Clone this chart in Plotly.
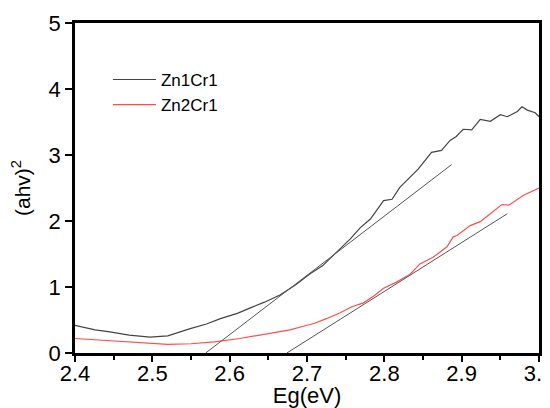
import plotly.graph_objects as go

# Zn1Cr1 (black) curve
zn1_x = [2.400, 2.426, 2.445, 2.470, 2.497, 2.520, 2.549, 2.570, 2.588, 2.610, 2.626, 2.645,
         2.665, 2.685, 2.704, 2.720, 2.734, 2.756, 2.769, 2.782, 2.799, 2.810, 2.820, 2.829,
         2.844, 2.861, 2.874, 2.885, 2.893, 2.902, 2.913, 2.924, 2.937, 2.950, 2.959, 2.972,
         2.978, 2.985, 2.995, 3.000]
zn1_y = [0.42, 0.35, 0.32, 0.27, 0.24, 0.26, 0.37, 0.44, 0.52, 0.60, 0.68, 0.77,
         0.88, 1.03, 1.20, 1.32, 1.48, 1.73, 1.90, 2.03, 2.31, 2.33, 2.51, 2.61,
         2.79, 3.04, 3.07, 3.22, 3.28, 3.39, 3.38, 3.54, 3.51, 3.61, 3.58, 3.66,
         3.73, 3.68, 3.64, 3.58]

# Zn2Cr1 (red) curve
zn2_x = [2.400, 2.450, 2.500, 2.520, 2.550, 2.580, 2.613, 2.650, 2.678, 2.700, 2.710, 2.725,
         2.743, 2.758, 2.773, 2.786, 2.799, 2.815, 2.833, 2.846, 2.863, 2.881, 2.889, 2.894,
         2.911, 2.924, 2.941, 2.952, 2.961, 2.980, 3.000]
zn2_y = [0.22, 0.18, 0.14, 0.13, 0.14, 0.17, 0.22, 0.29, 0.35, 0.42, 0.45, 0.52,
         0.61, 0.70, 0.76, 0.86, 0.98, 1.07, 1.19, 1.35, 1.45, 1.61, 1.76, 1.78,
         1.93, 1.99, 2.15, 2.25, 2.24, 2.39, 2.50]

# Tangent (extrapolation) lines
tan1_x = [2.569, 2.887]
tan1_y = [0.0, 2.855]
tan2_x = [2.674, 2.959]
tan2_y = [0.0, 2.11]

font_family = "Arial, Liberation Sans, sans-serif"

fig = go.Figure()
fig.add_trace(go.Scatter(x=zn1_x, y=zn1_y, mode="lines", name="Zn1Cr1",
                         line=dict(color="#444444", width=1.2)))
fig.add_trace(go.Scatter(x=zn2_x, y=zn2_y, mode="lines", name="Zn2Cr1",
                         line=dict(color="#ff4d4d", width=1.2)))
fig.add_trace(go.Scatter(x=tan1_x, y=tan1_y, mode="lines", showlegend=False,
                         line=dict(color="#555555", width=1)))
fig.add_trace(go.Scatter(x=tan2_x, y=tan2_y, mode="lines", showlegend=False,
                         line=dict(color="#555555", width=1)))

fig.update_layout(
    width=542, height=400,
    margin=dict(l=67, r=11, t=15, b=55),
    paper_bgcolor="white", plot_bgcolor="white",
    font=dict(family=font_family, color="black", size=22),
    legend=dict(x=0.071, y=0.882, xanchor="left", yanchor="top", itemwidth=43,
                bgcolor="rgba(0,0,0,0)", font=dict(size=17), tracegroupgap=0),
    xaxis=dict(range=[2.4, 3.0], tickvals=[2.4, 2.5, 2.6, 2.7, 2.8, 2.9, 3.0],
               ticktext=["2.4", "2.5", "2.6", "2.7", "2.8", "2.9", "3.0"],
               ticks="outside", ticklen=6, tickwidth=2, tickcolor="black",
               tickfont=dict(size=22), ticklabeloverflow="allow", ticklabelstandoff=-7,
               minor=dict(dtick=0.05, ticks="outside", ticklen=4, tickwidth=1.5, tickcolor="black"),
               showline=True, linewidth=2.5, linecolor="black", mirror=True,
               showgrid=False, zeroline=False, automargin=False,
               title=dict(text="Eg(eV)", standoff=9, font=dict(size=22))),
    yaxis=dict(range=[0, 5], tickvals=[0, 1, 2, 3, 4, 5],
               ticks="outside", ticklen=7, tickwidth=2, tickcolor="black",
               tickfont=dict(size=22),
               showline=True, linewidth=2.5, linecolor="black", mirror=True,
               showgrid=False, zeroline=False, automargin=False,
               title=dict(text="(ahv)<sup>2</sup>", standoff=16, font=dict(size=21))),
)

fig.write_html("out.html")
